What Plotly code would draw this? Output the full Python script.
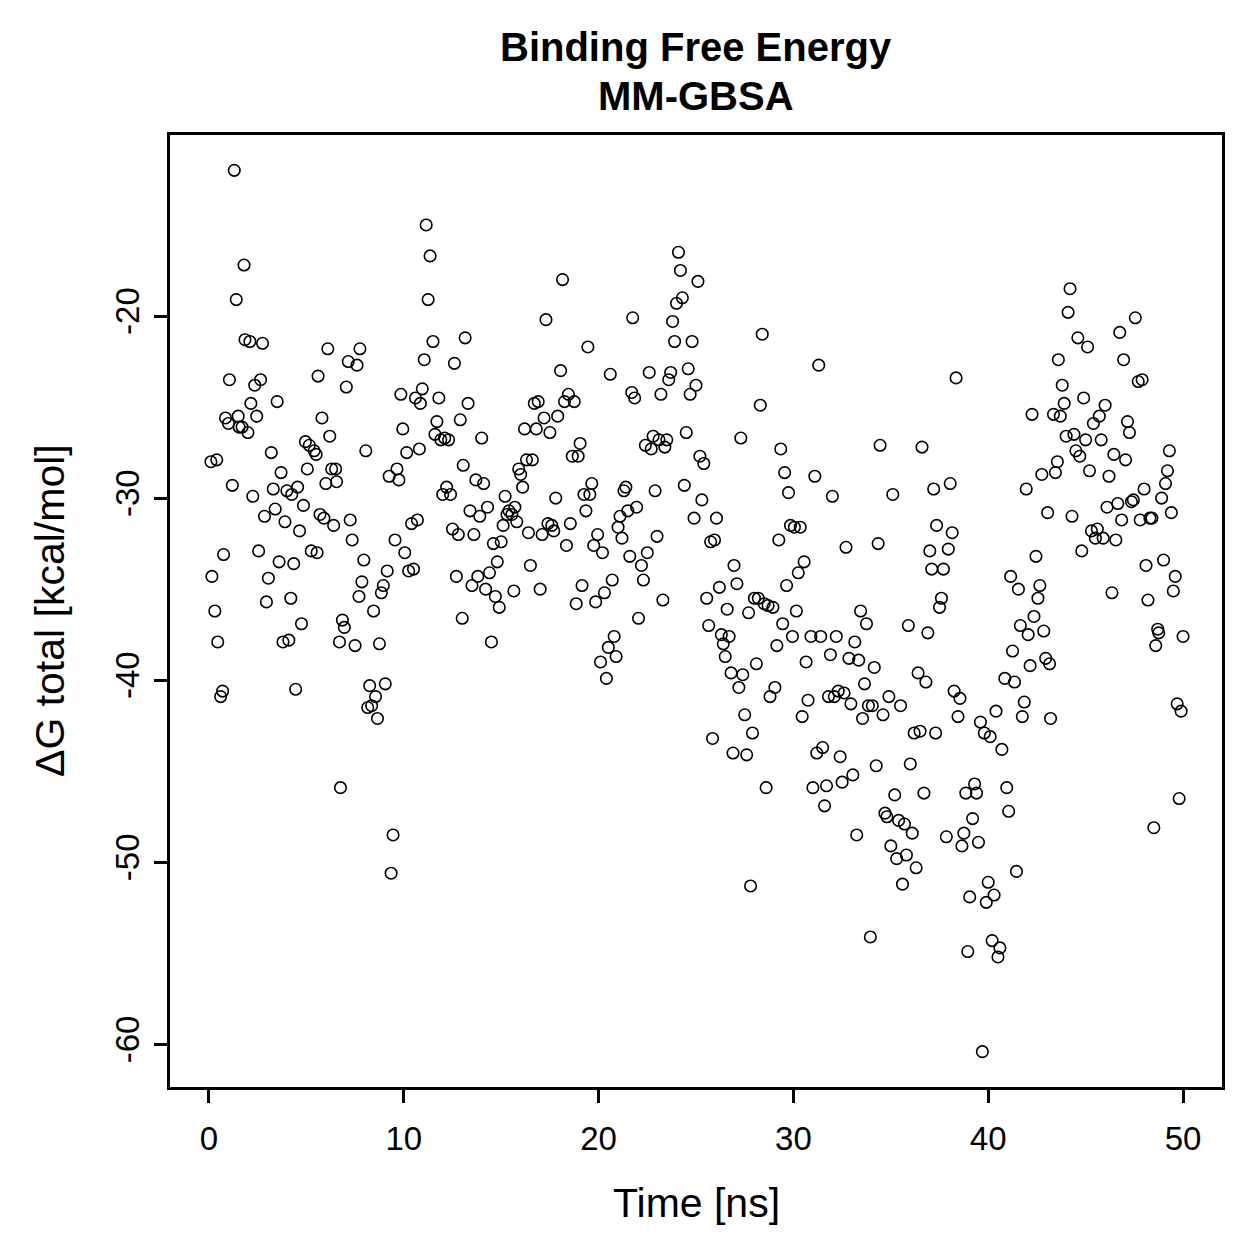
import plotly.graph_objects as go

time_ns = [0.1,0.15,0.3,0.4,0.45,0.6,0.7,0.75,0.85,1.0,1.05,1.2,1.3,1.4,1.5,1.55,1.7,1.8,1.85,2.0,
2.1,2.15,2.25,2.35,2.45,2.55,2.65,2.75,2.85,2.95,3.05,3.2,3.3,3.4,3.5,3.6,3.7,3.8,3.9,4.0,
4.1,4.2,4.25,4.35,4.45,4.55,4.65,4.75,4.85,4.95,5.05,5.15,5.25,5.4,5.5,5.55,5.6,5.7,5.8,5.9,
6.0,6.1,6.2,6.3,6.4,6.5,6.55,6.7,6.75,6.85,6.95,7.05,7.15,7.25,7.35,7.5,7.6,7.7,7.75,7.85,
7.95,8.05,8.15,8.25,8.35,8.45,8.55,8.65,8.75,8.85,8.95,9.05,9.15,9.25,9.35,9.45,9.55,9.65,9.75,9.85,
9.95,10.05,10.15,10.25,10.4,10.5,10.6,10.7,10.8,10.85,10.95,11.05,11.15,11.25,11.35,11.5,11.6,11.7,11.8,11.9,
12.0,12.1,12.2,12.3,12.4,12.5,12.6,12.7,12.8,12.9,13.0,13.05,13.15,13.3,13.4,13.5,13.6,13.7,13.8,13.9,
14.0,14.1,14.2,14.3,14.4,14.5,14.6,14.7,14.8,14.9,15.0,15.1,15.2,15.3,15.4,15.55,15.65,15.7,15.8,15.9,
16.0,16.1,16.2,16.3,16.4,16.5,16.6,16.7,16.8,16.9,17.0,17.1,17.2,17.3,17.4,17.5,17.6,17.7,17.8,17.9,
18.05,18.15,18.25,18.35,18.45,18.55,18.65,18.75,18.85,18.95,19.05,19.15,19.25,19.35,19.45,19.55,19.65,19.75,19.85,19.95,
20.1,20.2,20.3,20.4,20.5,20.6,20.7,20.8,20.9,21.0,21.1,21.2,21.3,21.4,21.5,21.6,21.7,21.75,21.85,21.95,
22.05,22.2,22.3,22.4,22.5,22.6,22.7,22.8,22.9,23.0,23.1,23.2,23.3,23.4,23.5,23.6,23.7,23.8,23.9,24.0,
24.1,24.2,24.3,24.4,24.5,24.6,24.7,24.8,24.9,25.0,25.1,25.2,25.3,25.4,25.55,25.65,25.75,25.85,25.95,26.05,
26.2,26.3,26.4,26.5,26.6,26.7,26.8,26.9,26.95,27.1,27.2,27.3,27.4,27.5,27.6,27.7,27.8,27.9,28.0,28.1,
28.2,28.3,28.4,28.5,28.6,28.7,28.8,28.95,29.05,29.15,29.25,29.35,29.45,29.55,29.65,29.75,29.85,29.95,30.05,30.15,
30.25,30.35,30.45,30.55,30.65,30.75,30.9,31.0,31.1,31.2,31.3,31.4,31.5,31.6,31.7,31.8,31.9,32.0,32.1,32.2,
32.3,32.4,32.5,32.6,32.7,32.85,32.95,33.05,33.15,33.25,33.35,33.45,33.55,33.65,33.75,33.85,33.95,34.05,34.15,34.25,
34.35,34.45,34.6,34.7,34.8,34.9,35.0,35.1,35.2,35.3,35.4,35.5,35.6,35.7,35.8,35.9,36.0,36.1,36.2,36.3,
36.4,36.5,36.6,36.7,36.8,36.9,37.0,37.1,37.2,37.3,37.35,37.5,37.6,37.7,37.85,37.95,38.05,38.15,38.25,38.35,
38.45,38.55,38.65,38.75,38.85,38.95,39.05,39.2,39.3,39.4,39.5,39.6,39.7,39.8,39.9,40.0,40.1,40.2,40.3,40.4,
40.5,40.6,40.7,40.85,40.95,41.05,41.15,41.25,41.35,41.45,41.55,41.65,41.75,41.85,41.95,42.05,42.15,42.25,42.35,42.45,
42.55,42.65,42.75,42.85,42.95,43.05,43.15,43.2,43.35,43.45,43.55,43.6,43.7,43.8,43.9,44.0,44.1,44.2,44.3,44.4,
44.5,44.6,44.7,44.8,44.9,45.0,45.1,45.2,45.3,45.4,45.5,45.6,45.7,45.8,45.9,46.0,46.1,46.2,46.35,46.45,
46.55,46.65,46.75,46.85,46.95,47.05,47.15,47.25,47.35,47.45,47.55,47.7,47.8,47.9,48.0,48.1,48.2,48.3,48.4,48.5,
48.6,48.7,48.75,48.9,49.0,49.1,49.2,49.3,49.4,49.5,49.6,49.7,49.8,49.9,50.0]

dg_total = [-28.0,-34.3,-36.2,-27.9,-37.9,-40.9,-40.6,-33.1,-25.6,-25.9,-23.5,-29.3,-12.0,-19.1,-25.5,-26.1,-26.1,-17.2,-21.3,-26.4,
-21.4,-24.8,-29.9,-23.8,-25.5,-32.9,-23.5,-21.5,-31.0,-35.7,-34.4,-27.5,-29.5,-30.6,-24.7,-33.5,-28.6,-37.9,-31.3,-29.6,
-37.8,-35.5,-29.8,-33.6,-40.5,-29.4,-31.8,-36.9,-30.4,-26.9,-28.4,-27.1,-32.9,-27.4,-27.6,-33.0,-23.3,-30.9,-25.6,-31.1,
-29.2,-21.8,-26.6,-28.4,-31.5,-28.4,-29.1,-37.9,-45.9,-36.7,-37.1,-23.9,-22.5,-31.2,-32.3,-38.1,-22.7,-35.4,-21.8,-34.6,
-33.4,-27.4,-41.5,-40.3,-41.4,-36.2,-40.9,-42.1,-38.0,-35.2,-34.8,-40.2,-34.0,-28.8,-50.6,-48.5,-32.3,-28.4,-29.0,-24.3,
-26.2,-33.0,-27.5,-34.0,-31.4,-33.9,-24.5,-31.2,-27.3,-24.8,-24.0,-22.4,-15.0,-19.1,-16.7,-21.4,-26.5,-25.8,-24.5,-26.8,
-29.8,-26.7,-29.4,-26.8,-29.8,-31.7,-22.6,-34.3,-32.0,-25.7,-36.6,-28.2,-21.2,-24.8,-30.7,-34.8,-32.0,-29.0,-34.3,-31.0,
-26.7,-29.2,-35.0,-30.5,-34.1,-37.9,-32.5,-35.4,-33.5,-36.0,-32.4,-31.5,-29.9,-30.9,-30.7,-30.9,-35.1,-30.5,-31.3,-28.4,
-28.7,-29.4,-26.2,-27.9,-31.9,-33.7,-27.9,-24.8,-26.2,-24.7,-35.0,-32.0,-25.6,-20.2,-31.4,-26.4,-31.5,-31.8,-30.0,-25.5,
-23.0,-18.0,-24.7,-32.6,-24.3,-31.4,-27.7,-24.7,-35.8,-27.7,-27.0,-34.8,-29.8,-30.7,-21.7,-29.8,-29.2,-32.6,-35.7,-32.0,
-39.0,-33.0,-35.2,-39.9,-38.2,-23.2,-34.5,-37.6,-38.7,-31.6,-31.0,-32.2,-29.6,-29.4,-30.7,-33.2,-24.2,-20.1,-24.5,-30.5,
-36.6,-33.7,-34.5,-27.1,-33.0,-23.1,-27.3,-26.6,-29.6,-32.1,-26.8,-24.3,-35.6,-27.2,-26.8,-23.5,-23.1,-20.3,-21.4,-19.3,
-16.5,-17.5,-19.0,-29.3,-26.4,-22.9,-24.3,-21.4,-31.1,-23.8,-18.1,-27.7,-30.1,-28.1,-35.5,-37.0,-32.4,-43.2,-32.3,-31.1,
-34.9,-37.5,-38.0,-38.7,-36.1,-37.6,-39.6,-44.0,-33.7,-34.7,-40.4,-26.7,-39.7,-41.9,-44.1,-36.3,-51.3,-42.9,-35.5,-39.1,
-35.5,-24.9,-21.0,-35.8,-45.9,-35.9,-40.9,-36.0,-40.4,-38.1,-32.3,-27.3,-36.9,-28.6,-34.8,-29.7,-31.5,-37.6,-31.6,-36.2,
-34.1,-31.6,-42.0,-33.5,-39.0,-41.1,-37.6,-45.9,-28.8,-44.0,-22.7,-37.6,-43.7,-46.9,-45.8,-40.9,-38.6,-29.9,-40.9,-37.6,
-40.6,-44.2,-45.6,-40.7,-32.7,-38.8,-41.3,-45.2,-37.9,-48.5,-38.9,-36.2,-42.1,-40.2,-36.9,-41.4,-54.1,-41.4,-39.3,-44.7,
-32.5,-27.1,-41.9,-47.3,-47.5,-40.9,-49.1,-29.8,-46.3,-49.8,-47.7,-41.4,-51.2,-47.9,-49.6,-37.0,-44.6,-48.4,-42.9,-50.3,
-39.6,-42.8,-27.2,-46.2,-40.1,-37.4,-32.9,-33.9,-29.5,-42.9,-31.5,-36.0,-35.5,-33.9,-48.6,-32.8,-29.2,-31.9,-40.6,-23.4,
-42.0,-41.0,-49.1,-48.4,-46.2,-54.9,-51.9,-47.6,-45.7,-46.2,-48.9,-42.3,-60.4,-42.9,-52.2,-51.1,-43.1,-54.3,-51.8,-41.7,
-55.2,-54.7,-43.8,-39.9,-45.9,-47.2,-34.3,-38.4,-40.1,-50.5,-35.0,-37.0,-42.0,-41.2,-29.5,-37.5,-39.2,-25.4,-36.5,-33.2,
-35.5,-34.8,-28.7,-37.3,-38.8,-30.8,-39.1,-42.1,-25.4,-28.6,-28.0,-22.4,-25.5,-23.8,-24.8,-26.6,-19.8,-18.5,-31.0,-26.5,
-27.4,-21.2,-27.7,-32.9,-24.5,-26.8,-21.7,-28.5,-31.8,-25.9,-32.2,-31.7,-25.5,-26.8,-32.2,-24.9,-30.5,-28.8,-35.2,-27.6,
-32.3,-30.3,-20.9,-31.2,-22.4,-27.9,-25.8,-26.4,-30.2,-30.1,-20.1,-23.6,-31.2,-23.5,-29.5,-33.7,-35.6,-31.1,-31.1,-48.1,
-38.1,-37.2,-37.4,-30.0,-33.4,-29.2,-28.5,-27.4,-30.8,-35.1,-34.3,-41.3,-46.5,-41.7,-37.6]

x_ticks = [0, 10, 20, 30, 40, 50]
y_ticks = [-60, -50, -40, -30, -20]

title_lines = ["Binding Free Energy", "MM-GBSA"]
x_label = "Time [ns]"
y_label = "ΔG total [kcal/mol]"

FONT = "Liberation Sans, Arial, Helvetica, sans-serif"

# plot area in pixels
L, R, T, B = 170, 1222, 135, 1087
W = R - L
H = B - T

fig = go.Figure(go.Scatter(
    x=time_ns, y=dg_total, mode="markers",
    marker=dict(symbol="circle-open", size=11.5, color="black", line=dict(width=1.6, color="black")),
    showlegend=False, hoverinfo="x+y",
))

annotations = [
    dict(text="<b>%s</b>" % title_lines[0], xref="paper", yref="paper", x=0.5, y=1 + (T - 47) / H,
         xanchor="center", yanchor="middle", showarrow=False, font=dict(size=40, family=FONT, color="black")),
    dict(text="<b>%s</b>" % title_lines[1], xref="paper", yref="paper", x=0.5, y=1 + (T - 96) / H,
         xanchor="center", yanchor="middle", showarrow=False, font=dict(size=40, family=FONT, color="black")),
    dict(text=x_label, xref="paper", yref="paper", x=0.5, y=(B - 1203) / H,
         xanchor="center", yanchor="middle", showarrow=False, font=dict(size=41, family=FONT, color="black")),
    dict(text=y_label, xref="paper", yref="paper", x=(50 - L) / W, y=0.5, textangle=-90,
         xanchor="center", yanchor="middle", showarrow=False, font=dict(size=41, family=FONT, color="black")),
]

fig.update_layout(
    width=1259, height=1259,
    margin=dict(l=L, r=1259 - R, t=T, b=1259 - B),
    paper_bgcolor="white", plot_bgcolor="white",
    font=dict(family=FONT, color="black", size=33),
    annotations=annotations,
)

fig.update_xaxes(
    range=[-2, 52], tickvals=x_ticks, ticktext=[str(v) for v in x_ticks],
    showgrid=False, zeroline=False, showline=True, linecolor="black", linewidth=2.5, mirror=True,
    ticks="outside", ticklen=13, tickwidth=2.5, tickcolor="black", ticklabelstandoff=8,
    tickfont=dict(size=33, family=FONT),
)
fig.update_yaxes(
    range=[-62.34, -10.06], tickvals=y_ticks, ticktext=[str(v) for v in y_ticks],
    showgrid=False, zeroline=False, showline=True, linecolor="black", linewidth=2.5, mirror=True,
    ticks="outside", ticklen=13, tickwidth=2.5, tickcolor="black", tickangle=-90, ticklabelstandoff=2,
    tickfont=dict(size=33, family=FONT),
)

fig.write_html("out.html")
